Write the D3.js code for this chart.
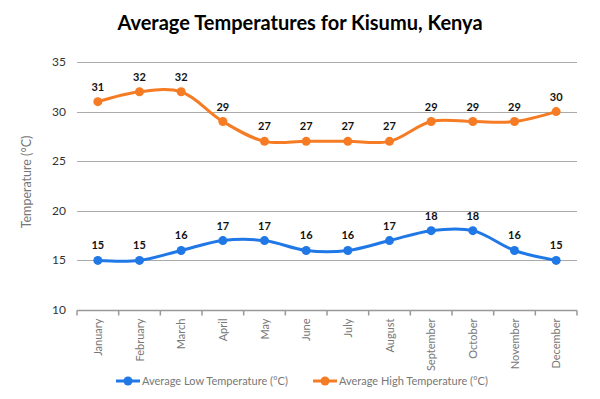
<!DOCTYPE html>
<html lang="en">
<head>
<meta charset="utf-8">
<title>Average Temperatures for Kisumu, Kenya</title>
<script src="https://d3js.org/d3.v7.min.js"></script>
<style>
  body { margin: 0; background: #fff; }
  text { font-family: Lato, "Open Sans", sans-serif; }
</style>
</head>
<body>
<div id="chart"></div>
<script>
// data
const months = ["January", "February", "March", "April", "May", "June",
                "July", "August", "September", "October", "November", "December"];
const lowTemps = [15, 15, 16, 17, 17, 16, 16, 17, 18, 18, 16, 15];
const highTemps = [31, 32, 32, 29, 27, 27, 27, 27, 29, 29, 29, 30];
const yTicks = [10, 15, 20, 25, 30, 35];

const width = 600, height = 399;
const margin = {top: 62, right: 23, bottom: 89, left: 77};

const svg = d3.select("#chart").append("svg")
    .attr("width", width)
    .attr("height", height);

// title
svg.append("text")
    .attr("x", 300).attr("y", 30)
    .attr("text-anchor", "middle")
    .style("font-size", "20px").style("font-weight", "bold")
    .attr("fill", "#000")
    .text("Average Temperatures for Kisumu, Kenya");

const x = d3.scaleBand()
    .domain(months)
    .range([margin.left, width - margin.right]);

const y = d3.scaleLinear()
    .domain([10, 35])
    .range([height - margin.bottom, margin.top]);

// gridlines
svg.append("g")
  .selectAll("line")
  .data(yTicks.slice(1))
  .join("line")
    .attr("x1", margin.left).attr("x2", width - margin.right)
    .attr("y1", d => Math.round(y(d)) + 0.5).attr("y2", d => Math.round(y(d)) + 0.5)
    .attr("stroke", "#aaa");

// y tick labels
svg.append("g")
  .selectAll("text")
  .data(yTicks)
  .join("text")
    .attr("x", margin.left - 11)
    .attr("y", d => y(d) + 4)
    .attr("text-anchor", "end")
    .style("font-size", "12px")
    .attr("fill", "#333")
    .text(d => d);

// y axis title
svg.append("text")
    .attr("transform", `translate(31, ${(y(10) + y(35)) / 2 - 4}) rotate(-90)`)
    .attr("text-anchor", "middle")
    .style("font-size", "12.5px")
    .attr("fill", "#777")
    .text("Temperature (°C)");

// x axis
const xAxis = svg.append("g")
    .attr("transform", `translate(0, ${Math.round(y(10)) + 0.5})`);
xAxis.append("line")
    .attr("x1", margin.left).attr("x2", width - margin.right)
    .attr("stroke", "#999").attr("stroke-width", 1.5);
xAxis.selectAll("line.tick")
  .data(d3.range(months.length + 1))
  .join("line")
    .attr("class", "tick")
    .attr("x1", i => margin.left + i * x.step()).attr("x2", i => margin.left + i * x.step())
    .attr("y1", 0).attr("y2", 5)
    .attr("stroke", "#999").attr("stroke-width", 1.5);
xAxis.selectAll("text")
  .data(months)
  .join("text")
    .attr("transform", d => `translate(${x(d) + x.bandwidth() / 2 + 4}, 8) rotate(-90)`)
    .attr("text-anchor", "end")
    .style("font-size", "11px")
    .attr("fill", "#777")
    .text(d => d);

const line = d3.line()
    .x((d, i) => x(months[i]) + x.bandwidth() / 2)
    .y(d => y(d))
    .curve(d3.curveCatmullRom.alpha(0.5));

const series = [
  {name: "Average Low Temperature (°C)", values: lowTemps, color: "#1f78e6"},
  {name: "Average High Temperature (°C)", values: highTemps, color: "#f57c24"}
];

series.forEach(s => {
  const g = svg.append("g");
  g.append("path")
    .datum(s.values)
    .attr("d", line)
    .attr("fill", "none")
    .attr("stroke", s.color)
    .attr("stroke-width", 3);
  g.selectAll("circle")
    .data(s.values)
    .join("circle")
      .attr("cx", (d, i) => x(months[i]) + x.bandwidth() / 2)
      .attr("cy", d => y(d))
      .attr("r", 4.5)
      .attr("fill", s.color);
  g.selectAll("text")
    .data(s.values)
    .join("text")
      .attr("x", (d, i) => x(months[i]) + x.bandwidth() / 2)
      .attr("y", d => y(d) - 11)
      .attr("text-anchor", "middle")
      .style("font-size", "11px").style("font-weight", "bold")
      .attr("fill", "#111")
      .text(d => d);
});

// legend
const legendX = [116, 313];
series.forEach((s, i) => {
  const lg = svg.append("g").attr("transform", `translate(${legendX[i]}, 381)`);
  lg.append("line").attr("x1", 0).attr("x2", 24)
    .attr("stroke", s.color).attr("stroke-width", 3);
  lg.append("circle").attr("cx", 12).attr("r", 4.5).attr("fill", s.color);
  lg.append("text").attr("x", 26).attr("y", 4)
    .style("font-size", "11px").attr("fill", "#777")
    .text(s.name);
});
</script>
</body>
</html>
